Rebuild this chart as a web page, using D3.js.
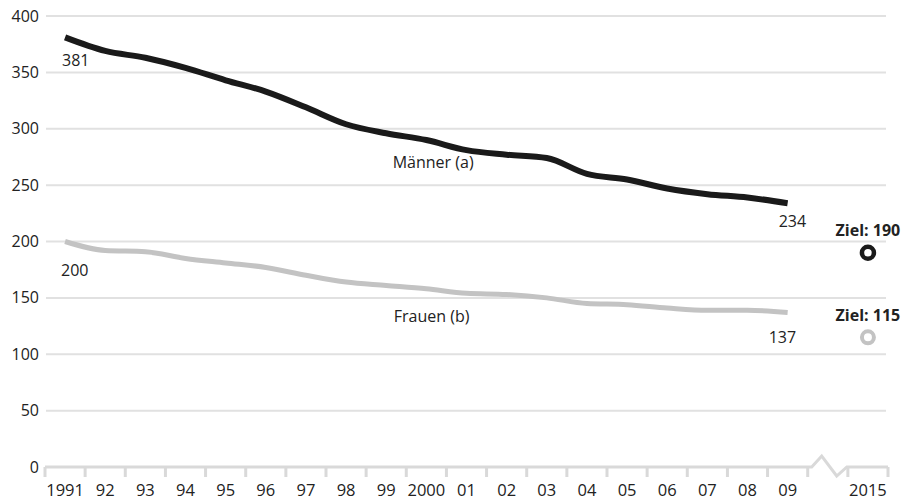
<!DOCTYPE html>
<html><head><meta charset="utf-8">
<script src="https://cdn.jsdelivr.net/npm/d3@7"></script>
<style>
body{margin:0;background:#fff;}
text{font-family:"Open Sans",sans-serif;fill:#222;}
</style></head>
<body><svg id="c" width="903" height="503"></svg>
<script>
const years = ["1991","92","93","94","95","96","97","98","99","2000","01","02","03","04","05","06","07","08","09"];
const maenner = [381,369,363,354,343,333,319,304,296,290,281,277,274,260,255,247,242,239,234];
const frauen  = [200,192,191,185,181,177,170,164,161,158,154,153,150,145,144,141,139,139,137];
const targetYear = "2015";
const zielMaenner = 190;
const zielFrauen = 115;
const yTicks = [0,50,100,150,200,250,300,350,400];

const svg = d3.select("#c");
const x = d3.scaleBand().domain([...years, "gap", targetYear]).range([45, 888]).paddingInner(0).paddingOuter(0);
const y = d3.scaleLinear().domain([0,400]).range([467,16]);
const cx = d => x(d) + x.bandwidth()/2;

// grid
svg.append("g").selectAll("line").data(yTicks.filter(d=>d>0)).join("line")
  .attr("x1",46).attr("x2",886).attr("y1",d=>y(d)).attr("y2",d=>y(d))
  .attr("stroke","#e1e1e1").attr("stroke-width",2);

// y labels
svg.append("g").selectAll("text").data(yTicks).join("text")
  .attr("x",39).attr("y",d=>y(d)+5.5).attr("text-anchor","end")
  .attr("font-size",16).text(d=>d);

// axis line with break
const axisColor="#d9d9d9";
const x09end = x("09")+x.bandwidth();
const x15 = x(targetYear);
const bw = x.bandwidth();
const y0 = y(0);
svg.append("path")
  .attr("d",`M45,${y0}H${x09end+4}L${x09end+14},${y0-11}L${x09end+29},${y0+9}L${x15-1},${y0}H${x15+bw}`)
  .attr("fill","none").attr("stroke",axisColor).attr("stroke-width",3).attr("stroke-linejoin","miter");
// ticks at band boundaries
const tickPos = [...years.map(d=>x(d)), x09end, x15, x15+bw];
svg.append("g").selectAll("line").data(tickPos).join("line")
  .attr("x1",d=>d).attr("x2",d=>d).attr("y1",y0).attr("y2",y0+10)
  .attr("stroke",axisColor).attr("stroke-width",3);

// x labels via axis
const xa = svg.append("g").attr("transform",`translate(0,${y0+12})`)
  .call(d3.axisBottom(x).tickSize(0).tickValues([...years,targetYear]));
xa.select(".domain").remove();
xa.selectAll("text").attr("font-size",16.5).attr("font-family","Open Sans, sans-serif").attr("fill","#222").attr("dy","0.85em");

// lines
const line = d3.line().x((d,i)=>cx(years[i])).y(d=>y(d)).curve(d3.curveMonotoneX);
svg.append("path").datum(frauen).attr("d",line).attr("fill","none").attr("stroke","#c3c3c3").attr("stroke-width",5);
svg.append("path").datum(maenner).attr("d",line).attr("fill","none").attr("stroke","#1a1a1a").attr("stroke-width",6);

// value labels
const lbl = (t,xx,yy,opts={})=>svg.append("text").attr("x",xx).attr("y",yy).attr("font-size",opts.size||16)
  .attr("font-weight",opts.bold?"bold":"normal").attr("text-anchor",opts.anchor||"start").text(t);
lbl(maenner[0], cx(years[0])-3, y(maenner[0])+29);
lbl(frauen[0], cx(years[0])-4, y(frauen[0])+34);
lbl(maenner[maenner.length-1], cx("09")-9, y(maenner[18])+24);
lbl(frauen[frauen.length-1], cx("09")-19, y(frauen[18])+30);
lbl("Männer (a)", x("96")+147, y(250)-17);
lbl("Frauen (b)", x("96")+148, y(150)+24);

// targets
lbl("Ziel: "+zielMaenner, cx(targetYear), y(zielMaenner)-17, {bold:true, anchor:"middle"});
lbl("Ziel: "+zielFrauen, cx(targetYear), y(zielFrauen)-16, {bold:true, anchor:"middle"});
svg.append("circle").attr("cx",cx(targetYear)).attr("cy",y(zielMaenner)).attr("r",6)
  .attr("fill","#fff").attr("stroke","#1a1a1a").attr("stroke-width",4.5);
svg.append("circle").attr("cx",cx(targetYear)).attr("cy",y(zielFrauen)).attr("r",6)
  .attr("fill","#fff").attr("stroke","#c3c3c3").attr("stroke-width",4);
</script></body></html>
